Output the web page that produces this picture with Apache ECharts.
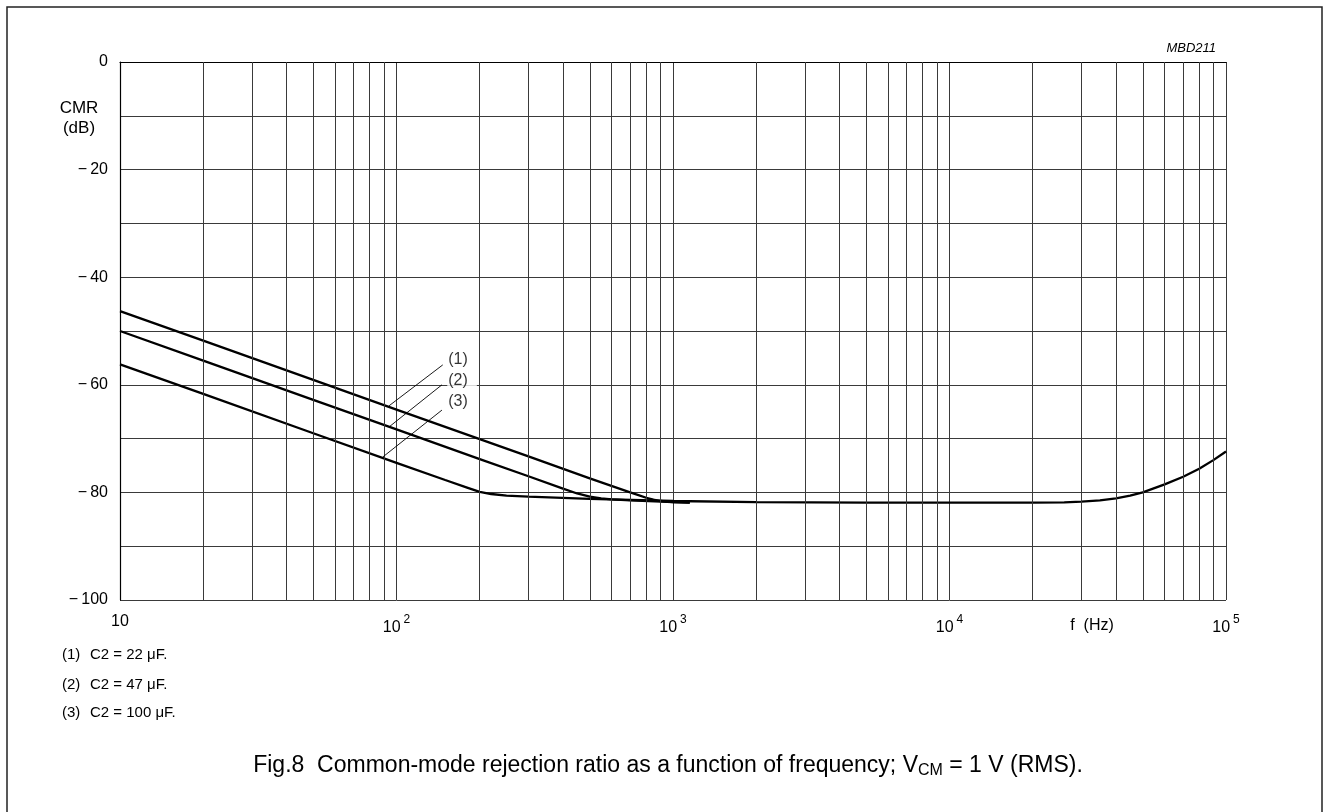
<!DOCTYPE html>
<html>
<head>
<meta charset="utf-8">
<script src="https://cdn.jsdelivr.net/npm/echarts@6/dist/echarts.min.js"></script>
<style>
html,body{margin:0;padding:0;background:#fff;}
#chart{width:1329px;height:812px;}
</style>
</head>
<body>
<div id="chart"></div>
<script>
// ---- data ----
const freq1 = [10, 20, 50, 100, 200, 300, 500, 700, 750, 800, 850, 900, 1000, 1150];
const cmr1  = [-46.3, -51.8, -59.1, -64.6, -70.1, -73.3, -77.4, -80.0, -80.5, -81.0, -81.35, -81.6, -81.8, -81.9];
const freq2 = [10, 20, 50, 100, 200, 300, 400, 450, 500, 550, 600, 700, 1000, 1150];
const cmr2  = [-50.0, -55.5, -62.8, -68.3, -73.8, -77.0, -79.3, -80.2, -80.8, -81.1, -81.3, -81.5, -81.8, -81.9];
const freq3 = [10, 20, 50, 100, 150, 180, 200, 220, 250, 300, 500, 1000, 2000, 5000, 10000, 20000, 26000, 30000, 35000, 40000, 45000, 50000, 60000, 70000, 80000, 90000, 100000];
const cmr3  = [-56.2, -61.7, -69.0, -74.5, -77.7, -79.1, -79.9, -80.3, -80.6, -80.8, -81.2, -81.6, -81.8, -81.9, -81.9, -81.9, -81.85, -81.7, -81.5, -81.1, -80.6, -80.0, -78.5, -77.1, -75.6, -74.0, -72.4];
const minorFreqs = [20,30,40,50,60,70,80,90,200,300,400,500,600,700,800,900,2000,3000,4000,5000,6000,7000,8000,9000,20000,30000,40000,50000,60000,70000,80000,90000];
const curveLabels = ['(1)', '(2)', '(3)'];
const labelFreq = 152;
const labelCmr = [-55.4, -59.3, -63.2];
const leaderFrom = [[94, -63.9], [94.7, -67.7], [89.3, -73.4]];
const leaderTo   = [[147, -56.3], [146, -60.0], [146, -64.7]];
const notes = ['C2 = 22 \u03bcF.', 'C2 = 47 \u03bcF.', 'C2 = 100 \u03bcF.'];

const FONT = 'Liberation Sans, Arial, sans-serif';
const GRID = '#3a3a3a';

function zip(a, b){ return a.map((v,i)=>[v, b[i]]); }

const chart = echarts.init(document.getElementById('chart'), null, {renderer:'canvas'});

const curveStyle = {color:'#000', width:2.3};

const option = {
  animation: false,
  backgroundColor: '#fff',
  grid: {left:120, right:103, top:62, bottom:212, containLabel:false},
  xAxis: {
    type:'log', logBase:10, min:10, max:100000,
    axisLine:{show:true, lineStyle:{color:'#000', width:1.2}},
    axisTick:{show:false},
    splitLine:{show:true, lineStyle:{color:GRID, width:1}},
    axisLabel:{
      margin:14, color:'#000', fontFamily:FONT, fontSize:16,
      formatter:function(v){
        const e = Math.round(Math.log10(v));
        if (e === 1) return '{b|10}';
        return '{b|10}{s|' + e + '}';
      },
      rich:{
        b:{fontSize:16, fontFamily:FONT, color:'#000'},
        s:{fontSize:12, fontFamily:FONT, color:'#000', padding:[0,0,15,3]}
      }
    }
  },
  yAxis: {
    type:'value', min:-100, max:0, interval:10,
    axisLine:{show:true, lineStyle:{color:'#000', width:1.2}},
    axisTick:{show:false},
    splitLine:{show:true, lineStyle:{color:GRID, width:1}},
    axisLabel:{
      margin:12, color:'#000', fontFamily:FONT, fontSize:16,
      formatter:function(v){
        if (v % 20 !== 0) return '';
        if (v === 0) return '0';
        return '\u2212\u2009' + Math.abs(v);
      }
    }
  },
  series: [
    {
      name:'minor', type:'line', data:[], silent:true,
      markLine:{
        silent:true, symbol:['none','none'], label:{show:false},
        lineStyle:{color:GRID, width:1, type:'solid'},
        data: minorFreqs.map(f=>({xAxis:f}))
      }
    },
    {
      name:'leaders', type:'line', data:[], silent:true, z:3,
      markLine:{
        silent:true, symbol:['none','none'], label:{show:false},
        lineStyle:{color:'#000', width:0.9, type:'solid'},
        data: leaderFrom.map((p,i)=>[{coord:p}, {coord:leaderTo[i]}])
      }
    },
    {name:'C2 = 22 \u03bcF', type:'line', data:zip(freq1,cmr1), showSymbol:false, smooth:false, lineStyle:curveStyle, z:4},
    {name:'C2 = 47 \u03bcF', type:'line', data:zip(freq2,cmr2), showSymbol:false, smooth:false, lineStyle:curveStyle, z:4},
    {name:'C2 = 100 \u03bcF', type:'line', data:zip(freq3,cmr3), showSymbol:false, smooth:false, lineStyle:curveStyle, z:4},
    {
      name:'labels', type:'scatter', symbolSize:1, itemStyle:{color:'rgba(0,0,0,0)'}, z:5, silent:true,
      data: curveLabels.map((t,i)=>({value:[labelFreq, labelCmr[i]], name:t})),
      label:{
        show:true, position:'right', distance:0, formatter:'{b}',
        color:'#000', fontFamily:FONT, fontSize:16,
        backgroundColor:'#fff', padding:[0,9,0,1]
      }
    }
  ],
  graphic: [
    {type:'rect', shape:{x:7, y:7, width:1315, height:820}, style:{fill:'none', stroke:'#222', lineWidth:1.5}, silent:true},
    {type:'text', x:1216, y:48, style:{text:'MBD211', font:'italic 13px ' + FONT, fill:'#000', textAlign:'right', textVerticalAlign:'middle'}},
    {type:'text', x:79, y:108, style:{text:'CMR', font:'17px ' + FONT, fill:'#000', textAlign:'center', textVerticalAlign:'middle'}},
    {type:'text', x:79, y:128, style:{text:'(dB)', font:'17px ' + FONT, fill:'#000', textAlign:'center', textVerticalAlign:'middle'}},
    {type:'text', x:1092, y:626, style:{text:'f  (Hz)', font:'16px ' + FONT, fill:'#000', textAlign:'center', textVerticalAlign:'middle'}},
    {type:'text', x:62, y:655, style:{text:'(1)', font:'15px ' + FONT, fill:'#000', textVerticalAlign:'middle'}},
    {type:'text', x:62, y:685, style:{text:'(2)', font:'15px ' + FONT, fill:'#000', textVerticalAlign:'middle'}},
    {type:'text', x:62, y:713, style:{text:'(3)', font:'15px ' + FONT, fill:'#000', textVerticalAlign:'middle'}},
    {type:'text', x:90, y:655, style:{text:notes[0], font:'15px ' + FONT, fill:'#000', textVerticalAlign:'middle'}},
    {type:'text', x:90, y:685, style:{text:notes[1], font:'15px ' + FONT, fill:'#000', textVerticalAlign:'middle'}},
    {type:'text', x:90, y:713, style:{text:notes[2], font:'15px ' + FONT, fill:'#000', textVerticalAlign:'middle'}},
    {type:'text', x:668, y:766, style:{
      text:'{t|Fig.8  Common-mode rejection ratio as a function of frequency; V}{s|CM}{t| = 1 V (RMS).}',
      textAlign:'center', textVerticalAlign:'middle',
      rich:{
        t:{fontSize:23, fontFamily:FONT, fill:'#000', color:'#000'},
        s:{fontSize:16, fontFamily:FONT, fill:'#000', color:'#000', padding:[10,0,0,0]}
      }
    }}
  ]
};
chart.setOption(option);
</script>
</body>
</html>
